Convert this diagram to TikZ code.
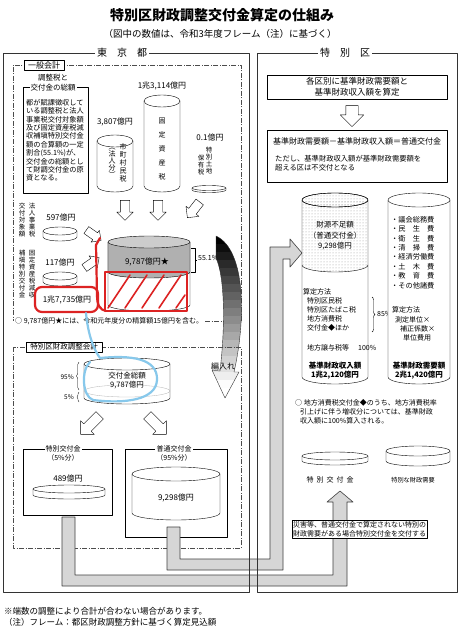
\documentclass[tikz,border=0pt]{standalone}
\usepackage{fontspec}
\setmainfont{Noto Sans CJK JP}
\usetikzlibrary{shapes.arrows,decorations.pathreplacing,patterns}

\definecolor{pipegray}{gray}{0.84}
\definecolor{markred}{RGB}{220,35,35}
\definecolor{markblue}{RGB}{135,200,235}

% drum: [style] centre x, half width, top y, bottom y, y radius
\newcommand{\zdrum}[6][fill=white]{%
  \draw[#1] (#2-#3,#4) -- (#2-#3,#5)
    arc[start angle=180, end angle=0, x radius=#3, y radius=#6] -- (#2+#3,#4);
  \draw[#1] (#2,#4) ellipse[x radius=#3, y radius=#6];}

\begin{document}
\begin{tikzpicture}[x=1pt, y=-1pt, line join=round,
  every node/.style={inner sep=0pt},
  txt/.style={font=\fontsize{7}{8.4}\selectfont},
  num/.style={font=\fontsize{8}{9}\selectfont},
  vtxt/.style={font=\fontsize{6.5}{7}\selectfont, align=center, anchor=north},
  tag/.style={draw, fill=white, inner xsep=4pt, inner ysep=1.5pt},
  fat/.style={single arrow, draw, fill=white, inner xsep=0pt, inner ysep=4.5pt,
    single arrow head extend=3.5pt, minimum height=20pt},
  dashdot/.style={gray!60!black, dash pattern=on 5pt off 1.5pt on 1pt off 1.5pt},
  pipe/.style={draw=black!75, fill=pipegray, line width=0.6pt},
  redmark/.style={markred, line width=2.2pt, line cap=round},
  bluemark/.style={markblue, line width=2.2pt, line cap=round}]

  \useasboundingbox (0,0) rectangle (460,631);
  \fill[white] (0,0) rectangle (460,631);

  % Title
  \node[font=\fontsize{14}{16}\selectfont\bfseries] (title) at (222,15) {特別区財政調整交付金算定の仕組み};
  \node[font=\fontsize{9.5}{11}\selectfont] (subtitle) at (220,34) {（図中の数値は、令和3年度フレーム（注）に基づく）};

  % General account (dash-dot frame)
  \draw[dashdot] (205,321) -- (241,321) -- (241,65) -- (13,65) -- (13,321);
  \node[tag, font=\fontsize{8}{9}\selectfont] (general) at (44,65) {一般会計};
  \node[txt, anchor=west] (note1) at (15,321) {○ 9,787億円★には、令和元年度分の精算額15億円を含む。};

  % Source text box
  \draw (23,87) rectangle (88,193);
  \node[txt, fill=white, align=center, inner xsep=1pt, font=\fontsize{7.5}{10}\selectfont] (sourcelbl) at (53,83) {調整税と\\交付金の総額};
  \node[txt, anchor=north west, align=left, font=\fontsize{7.2}{8.4}\selectfont] (sourcetxt) at (26,99)
    {都が賦課徴収して\\いる調整税と法人\\事業税交付対象額\\及び固定資産税減\\収補塡特別交付金\\額の合算額の一定\\割合(55.1\%)が、\\交付金の総額とし\\て財調交付金の原\\資となる。};

  % Tax drums
  \node[num] (c3807) at (115,122) {3,807億円};
  \zdrum{115}{18}{141}{186}{6}
  \node[vtxt, font=\fontsize{7}{8}\selectfont] (shichoson) at (123,143) {市\\町\\村\\民\\税};
  \node[vtxt, font=\fontsize{7}{7}\selectfont] (hojinbun) at (112,148) {︵\\法\\人\\分\\︶};

  \node[num] (c13114) at (162,86) {1兆3,114億円};
  \zdrum{162}{18}{101}{186}{6}
  \node[vtxt, font=\fontsize{7}{14}\selectfont] (kotei) at (162,118) {固\\定\\資\\産\\税};

  \node[num] (c01) at (210,137) {0.1億円};
  \zdrum{209}{17}{188}{190}{2.5}
  \node[vtxt] (tokutochi) at (209,147) {特\\別\\土\\地};
  \node[vtxt] (hoyuzei) at (201,155) {保\\有\\税};

  \node[fat, rotate=-90] (arrA) at (125,208) {};
  \node[fat, rotate=-90] (arrB) at (158,208) {};
  \node[fat, rotate=-128] (arrC) at (195,208) {};

  % Grants into the pool
  \node[vtxt] (hojinjigyo) at (32,203) {法\\人\\事\\業\\税};
  \node[vtxt] (kofutaisho) at (22,203) {交\\付\\対\\象\\額};
  \node[num] (c597) at (61,217) {597億円};
  \zdrum{60}{17}{231}{237}{4}
  \node[fat, rotate=-35, inner ysep=4pt, single arrow head extend=3pt, minimum height=18pt] (arr597) at (92,234) {};

  \node[vtxt] (koteigen) at (32,250) {固\\定\\資\\産\\税\\減\\収};
  \node[vtxt] (hoten) at (22,250) {補\\塡\\特\\別\\交\\付\\金};
  \node[num] (c117) at (60,262) {117億円};
  \zdrum{60}{17}{276}{282}{4}
  \node[fat, rotate=35, inner ysep=4pt, single arrow head extend=3pt, minimum height=18pt] (arr117) at (90,264) {};

  \node[num] (c17735) at (67,300) {1兆7,735億円};

  % Pool drum
  \draw[fill=white] (108,242) -- (108,305) arc[start angle=180, end angle=0, x radius=41, y radius=6] -- (190,242);
  \fill[gray!62] (108,242) -- (108,272) arc[start angle=180, end angle=0, x radius=41, y radius=6] -- (190,242) -- cycle;
  \draw (108,242) -- (108,272) arc[start angle=180, end angle=0, x radius=41, y radius=6] -- (190,242);
  \draw[fill=gray!40] (149,242) ellipse[x radius=41, y radius=6];
  \node[num] (pool) at (147,262) {9,787億円★};
  \draw (191,248) -- (195,248) -- (195,272) -- (191,272);
  \draw (195,260) -- (197,260);
  \node[txt, anchor=west] (p551) at (198,258) {55.1\%};

  % Red marks
  \draw[redmark, rounded corners=7pt] (35,287) rectangle (98,312);
  \draw[redmark] (100,238) -- (96,245) -- (97,295) .. controls (97,305) and (100,310) .. (106,311);
  \draw[redmark] (105,272) rectangle (187,311);
  \foreach \hx in {108,125,...,159}
    \draw[redmark, line width=1.6pt] (\hx,308) -- (\hx+22,275);
  \draw[redmark, line width=1.6pt] (176,308) -- (185,295);

  % Curved transfer arrow (stepped black-to-white fill)
  \begin{scope}
    \clip (216,236) .. controls (246,250) and (246,320) .. (234,372) -- (239,372) -- (225,398)
      -- (212,370) -- (220,371) .. controls (226,320) and (224,275) .. (216,258) -- cycle;
    \foreach \i in {0,...,20} {
      \pgfmathsetmacro\tone{max(0,100-\i*5.5)}
      \fill[black!\tone] (205,236+8*\i) rectangle (250,245+8*\i);
    }
  \end{scope}
  \draw[gray!40!black, line width=0.4pt] (216,236) .. controls (246,250) and (246,320) .. (234,372) -- (239,372) -- (225,398)
    -- (212,370) -- (220,371) .. controls (226,320) and (224,275) .. (216,258) -- cycle;
  \node[font=\fontsize{8}{9}\selectfont] (hennyu) at (223,366) {編入れ};

  % Special ward account (dash-dot frame)
  \draw[dashdot] (13,347) rectangle (241,548);
  \node[tag, font=\fontsize{7.5}{8.5}\selectfont] (tokuacc) at (64,347) {特別区財政調整会計};

  \zdrum{127}{43}{364}{398}{6}
  \draw[gray!60, line width=0.3pt] (127,391) ellipse[x radius=43, y radius=6];
  \node[txt, align=center, font=\fontsize{7.5}{9}\selectfont] (kofusogaku) at (127,381) {交付金総額\\9,787億円};
  \draw[decorate, decoration={brace, amplitude=2.5pt}] (79,390) -- (79,362);
  \node[txt, anchor=east, font=\fontsize{6.5}{7}\selectfont] (p95) at (74,377) {95\%};
  \draw[decorate, decoration={brace, amplitude=2pt}] (79,402) -- (79,392);
  \node[txt, anchor=east, font=\fontsize{6.5}{7}\selectfont] (p5) at (74,397) {5\%};

  % Blue mark
  \draw[bluemark] (86,313) .. controls (88,335) and (94,350) .. (100,358)
    .. controls (130,355) and (158,358) .. (157,380) .. controls (156,400) and (125,404) .. (93,400)
    .. controls (82,396) and (81,370) .. (90,362);

  \node[fat, rotate=-135, inner ysep=5pt, single arrow head extend=4.5pt, minimum height=27pt] (arrL) at (92,423) {};
  \node[fat, rotate=-45, inner ysep=5pt, single arrow head extend=4.5pt, minimum height=27pt] (arrR) at (155,423) {};

  % Special grant box
  \draw (23,449) rectangle (112,515);
  \node[txt, fill=white, align=center, inner xsep=1pt, font=\fontsize{7}{9}\selectfont] (tokukofu) at (63,453) {特別交付金\\（5\%分）};
  \node[num] (c489) at (68,478) {489億円};
  \zdrum{69}{36}{489}{495}{4}

  % Ordinary grant box
  \draw (125,449) rectangle (227,537);
  \node[txt, fill=white, align=center, inner xsep=1pt, font=\fontsize{7}{9}\selectfont] (futsukofu) at (174,453) {普通交付金\\（95\%分）};
  \zdrum{176}{44}{474}{513}{7}
  \node[num] (c9298) at (176,498) {9,298億円};

  % Right side: calculation
  \draw (267,75) rectangle (447,99);
  \node[align=center, font=\fontsize{8.5}{10.5}\selectfont] (santei) at (357,87) {各区別に基準財政需要額と\\基準財政収入額を算定};
  \node[fat, rotate=-90, inner ysep=6pt, single arrow head extend=5.5pt, minimum height=21pt] (arrS) at (352,113) {};
  \draw (267,130) rectangle (447,182);
  \node[font=\fontsize{8}{9}\selectfont] (formula) at (357,141) {基準財政需要額－基準財政収入額＝普通交付金};
  \node[txt, anchor=north west, align=left, font=\fontsize{7.3}{9}\selectfont] (proviso) at (275,155) {ただし、基準財政収入額が基準財政需要額を\\超える区は不交付となる};

  % Revenue drum
  \zdrum{335}{33}{200}{377}{7}
  \fill[pattern=dots, pattern color=gray!80] (302,200) -- (302,265) arc[start angle=180, end angle=0, x radius=33, y radius=7] -- (368,200) -- cycle;
  \fill[pattern=dots, pattern color=gray!80] (335,200) ellipse[x radius=33, y radius=7];
  \draw (302,265) arc[start angle=180, end angle=0, x radius=33, y radius=7];
  \draw (335,200) ellipse[x radius=33, y radius=7];
  \node[align=center, font=\fontsize{7.5}{10.5}\selectfont] (fusoku) at (335,236) {財源不足額\\（普通交付金）\\9,298億円};
  \node[txt, anchor=west] (hoho1) at (303,292) {算定方法};
  \node[txt, anchor=north west, align=left, font=\fontsize{7}{9}\selectfont] (items1) at (307,297) {特別区民税\\特別区たばこ税\\地方消費税\\交付金◆ほか};
  \draw[decorate, decoration={brace, amplitude=3pt}] (372,297) -- (372,332);
  \node[txt, anchor=west] (p85) at (377,314) {85\%};
  \node[txt, anchor=west] (joyo) at (307,348) {地方譲与税等};
  \node[txt, anchor=west] (p100) at (358,348) {100\%};
  \node[align=center, font=\fontsize{7.5}{9}\selectfont\bfseries] (shunyu) at (335,371) {基準財政収入額\\1兆2,120億円};

  % Need drum
  \zdrum{419}{31}{200}{377}{7}
  \node[txt, anchor=north west, align=left, font=\fontsize{7.2}{9.4}\selectfont] (hiyo) at (391,216) {・議会総務費\\・民　生　費\\・衛　生　費\\・清　掃　費\\・経済労働費\\・土　木　費\\・教　育　費\\・その他諸費};
  \node[txt, anchor=west] (hoho2) at (392,310) {算定方法};
  \node[txt, anchor=north west, align=left, font=\fontsize{7}{9}\selectfont] (sokutei) at (395,316) {測定単位×\\\hspace{5pt}補正係数×\\\hspace{8pt}単位費用};
  \node[align=center, font=\fontsize{7.5}{9}\selectfont\bfseries] (juyo) at (419,371) {基準財政需要額\\2兆1,420億円};

  \node[txt, anchor=north west, align=left, font=\fontsize{7}{9}\selectfont] (note2) at (295,399) {○ 地方消費税交付金◆のうち、地方消費税率\\\hspace{5pt}引上げに伴う増収分については、基準財政\\\hspace{5pt}収入額に100\%算入される。};

  % Special grant / special need disks
  \zdrum{335}{33}{456}{461}{4}
  \node[txt] (tokukofu2) at (330,480) {特\hspace{3pt}別\hspace{3pt}交\hspace{3pt}付\hspace{3pt}金};
  \zdrum{418}{32}{451}{461}{5}
  \node[font=\fontsize{6.2}{7}\selectfont] (tokujuyo) at (413,480) {特別な財政需要};

  % Pipes
  \draw[pipe] (62,517) -- (62,586) -- (347,586) -- (347,502) -- (353,502) -- (340,491) -- (327,502)
    -- (333,502) -- (333,575) -- (75,575) -- (75,517) -- cycle;
  \draw[pipe] (167,527) -- (167,570) -- (283,570) -- (283,259) -- (290,259) -- (290,267) -- (302,253)
    -- (290,239) -- (290,247) -- (270,247) -- (270,559) -- (180,559) -- (180,527) -- cycle;

  % Outer frames
  \draw[gray!40!black, line width=0.8pt] (3,53) rectangle (249,592);
  \draw[gray!40!black, line width=0.8pt] (257,53) rectangle (457,592);
  \node[fill=white, inner xsep=2pt, font=\fontsize{10}{12}\selectfont] (tokyo) at (122,53) {東　京　都};
  \node[fill=white, inner xsep=2pt, font=\fontsize{10}{12}\selectfont] (ku) at (345,53) {特　別　区};

  \node[draw, fill=white, anchor=north west, align=left, inner sep=1pt, font=\fontsize{7}{9}\selectfont] (saigai) at (292,520)
    {災害等、普通交付金で算定されない特別の\\財政需要がある場合特別交付金を交付する};

  % Footnotes
  \node[anchor=west, font=\fontsize{8.5}{10}\selectfont] (foot1) at (4,611) {※端数の調整により合計が合わない場合があります。};
  \node[anchor=west, font=\fontsize{8.5}{10}\selectfont] (foot2) at (4,622) {（注）フレーム：都区財政調整方針に基づく算定見込額};

\end{tikzpicture}
\end{document}
